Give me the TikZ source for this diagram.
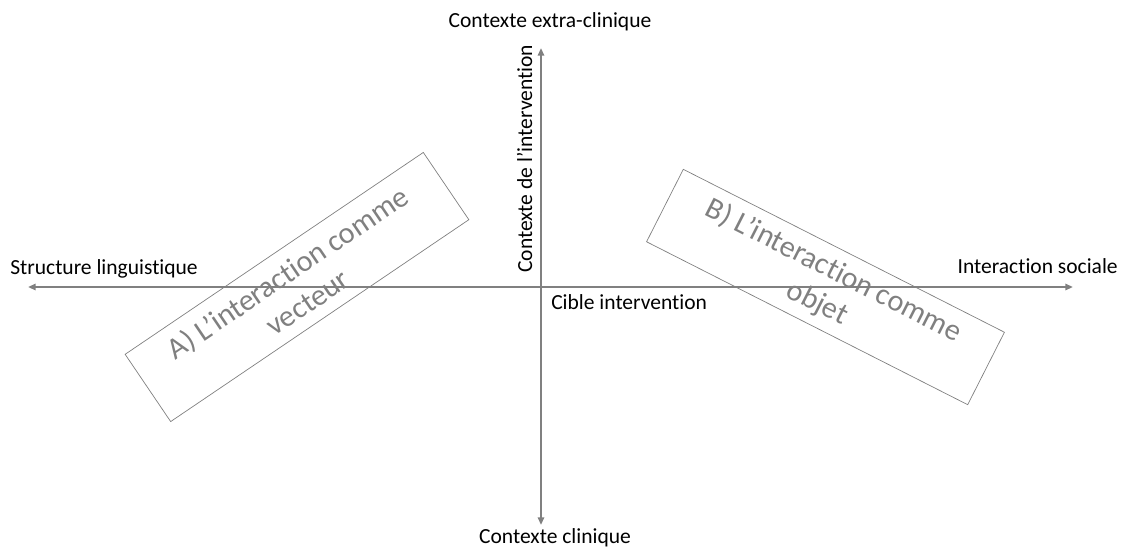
\documentclass[tikz,border=0pt]{standalone}
\usepackage{fontspec}
\setmainfont[Ligatures=NoCommon]{Carlito}
\usetikzlibrary{arrows.meta,positioning}

\tikzset{
	axis/.style={draw=black!50, line width=1.6pt, -{Triangle[length=5.5pt,width=4.5pt]}},
	lab/.style={font=\fontsize{15.3}{18}\selectfont, inner sep=0pt},
	zone/.style={draw=black!50, line width=0.5pt, text=black!50, align=center,
		minimum width=9cm, minimum height=2.03cm, inner sep=0pt,
		font=\fontsize{21.5}{25.5}\selectfont},
}

\begin{document}
\begin{tikzpicture}[x=0.025cm, y=0.025cm]
	\useasboundingbox (-541,-262) rectangle (582,287);
	
	\coordinate (o) at (0,0);
	\coordinate (W) at (-513,0);
	\coordinate (E) at (532,0);
	\coordinate (N) at (0,239);
	\coordinate (S) at (0,-238);
	
	% zones
	\node[zone, rotate=34.1] (A) at (-244,0) {A) L’interaction comme\\vecteur};
	\node[zone, rotate=-26.9] (B) at (284.5,0) {B) L’interaction comme\\objet};
	
	% axes
	\draw[axis] (o) -- (W);
	\draw[axis] (o) -- (E);
	\draw[axis] (o) -- (N);
	\draw[axis] (o) -- (S);
	
	\node[lab, anchor=base west] (sl) at (-531,13) {Structure linguistique};
	\node[lab, anchor=base east] (is) at (577,14) {Interaction sociale};
	\node[lab, anchor=base west] (ci) at (10,-22) {Cible intervention};
	\node[lab, anchor=base] (ec) at (9,260) {Contexte extra-clinique};
	\node[lab, anchor=base] (cc) at (14,-256) {Contexte clinique};
	\node[lab, anchor=base west, rotate=90] (ctx) at (-9,14) {Contexte de l’intervention};
\end{tikzpicture}
\end{document}
